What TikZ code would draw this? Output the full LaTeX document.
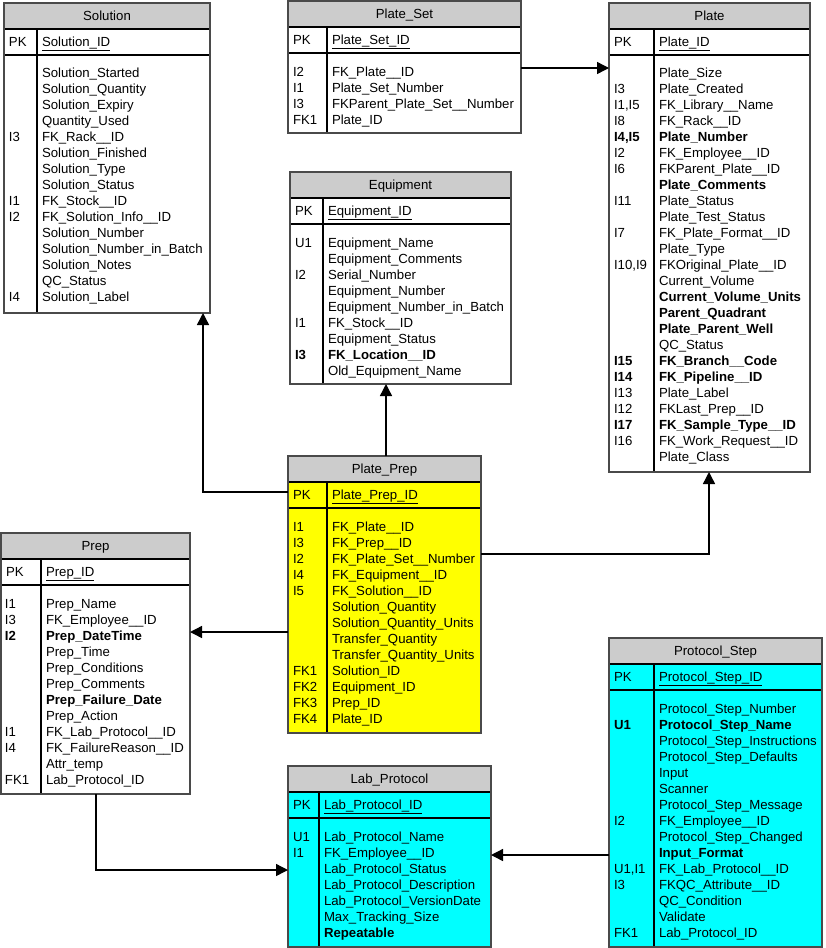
\documentclass[tikz,border=0pt]{standalone}
\usepackage{fontspec}
\setmainfont{Liberation Sans}
\usetikzlibrary{arrows.meta,fit}
\definecolor{titlegray}{HTML}{CCCCCC}
\definecolor{ery}{HTML}{FFFF00}
\definecolor{erc}{HTML}{00FFFF}
\definecolor{borderc}{HTML}{4A4A4A}
\def\erdash{-}
\tikzset{
  txt/.style={font=\fontsize{13.2}{16}\selectfont, inner sep=0pt, outer sep=0pt, text=black},
  divline/.style={draw=black, line width=1.1pt},
  boxline/.style={draw=borderc, line width=1.3pt},
  arr/.style={draw=black, line width=1.4pt, -{Triangle[length=12pt,width=12pt]}},
}
% name, x1, x2, ytop, ybot, xcol, fill, title, pkfield
\newcommand\erbox[9]{%
  \fill[#7] (#2,#4+26) rectangle (#3,#5);
  \fill[titlegray] (#2,#4) rectangle (#3,#4+26);
  \draw[divline] (#2,#4+26) -- (#3,#4+26) (#2,#4+52) -- (#3,#4+52) (#6,#4+26) -- (#6,#5);
  \node[fit={(#2,#4) (#3,#5)}, inner sep=0pt, outer sep=0pt, boxline] (#1) {};
  \node[txt, anchor=base] (#1-title) at ({(#2+#3)/2}, #4+17.5) {#8};
  \node[txt, anchor=base west] (#1-pkkey) at (#2+5, #4+43.5) {PK};
  \node[txt, anchor=base west] (#1-pk) at (#6+5, #4+43.5) {\underline{#9}};
}
% name, x1, xcol, yfirst(center), list
\newcommand\errows[5]{%
  \foreach \kk/\ff [count=\ii from 0] in {#5} {
    \ifx\kk\erdash\else
      \node[txt, anchor=base west] (#1-k\ii) at (#2+5, #4+4.5+16*\ii) {\kk};
    \fi
    \node[txt, anchor=base west] (#1-f\ii) at (#3+5, #4+4.5+16*\ii) {\ff};
  }
}
\begin{document}
\begin{tikzpicture}[x=1pt,y=-1pt]
\useasboundingbox (0,0) rectangle (825,948);
\fill[white] (0,0) rectangle (825,948);

% Solution
\erbox{solution}{4}{210}{3}{313}{37}{white}{Solution}{Solution\_ID}
\errows{solution}{4}{37}{73}{-/Solution\_Started, -/Solution\_Quantity, -/Solution\_Expiry, -/Quantity\_Used, I3/FK\_Rack\_\_ID, -/Solution\_Finished, -/Solution\_Type, -/Solution\_Status, I1/FK\_Stock\_\_ID, I2/FK\_Solution\_Info\_\_ID, -/Solution\_Number, -/Solution\_Number\_in\_Batch, -/Solution\_Notes, -/QC\_Status, I4/Solution\_Label}

% Plate_Set
\erbox{plateset}{288}{521}{1}{133}{327}{white}{Plate\_Set}{Plate\_Set\_ID}
\errows{plateset}{288}{327}{72}{I2/FK\_Plate\_\_ID, I1/Plate\_Set\_Number, I3/FKParent\_Plate\_Set\_\_Number, FK1/Plate\_ID}

% Plate
\erbox{plate}{609}{810}{3}{472}{654}{white}{Plate}{Plate\_ID}
\errows{plate}{609}{654}{73}{-/Plate\_Size, I3/Plate\_Created, {I1,I5}/FK\_Library\_\_Name, I8/FK\_Rack\_\_ID, {\textbf{I4,I5}}/\textbf{Plate\_Number}, I2/FK\_Employee\_\_ID, I6/FKParent\_Plate\_\_ID, -/\textbf{Plate\_Comments}, I11/Plate\_Status, -/Plate\_Test\_Status, I7/FK\_Plate\_Format\_\_ID, -/Plate\_Type, {I10,I9}/FKOriginal\_Plate\_\_ID, -/Current\_Volume, -/\textbf{Current\_Volume\_Units}, -/\textbf{Parent\_Quadrant}, -/\textbf{Plate\_Parent\_Well}, -/QC\_Status, \textbf{I15}/\textbf{FK\_Branch\_\_Code}, \textbf{I14}/\textbf{FK\_Pipeline\_\_ID}, I13/Plate\_Label, I12/FKLast\_Prep\_\_ID, \textbf{I17}/\textbf{FK\_Sample\_Type\_\_ID}, I16/FK\_Work\_Request\_\_ID, -/Plate\_Class}

% Equipment
\erbox{equipment}{290}{511}{172}{384}{323}{white}{Equipment}{Equipment\_ID}
\errows{equipment}{290}{323}{243}{U1/Equipment\_Name, -/Equipment\_Comments, I2/Serial\_Number, -/Equipment\_Number, -/Equipment\_Number\_in\_Batch, I1/FK\_Stock\_\_ID, -/Equipment\_Status, \textbf{I3}/\textbf{FK\_Location\_\_ID}, -/Old\_Equipment\_Name}

% Plate_Prep
\erbox{plateprep}{288}{481}{456}{733}{327}{ery}{Plate\_Prep}{Plate\_Prep\_ID}
\errows{plateprep}{288}{327}{527}{I1/FK\_Plate\_\_ID, I3/FK\_Prep\_\_ID, I2/FK\_Plate\_Set\_\_Number, I4/FK\_Equipment\_\_ID, I5/FK\_Solution\_\_ID, -/Solution\_Quantity, -/Solution\_Quantity\_Units, -/Transfer\_Quantity, -/Transfer\_Quantity\_Units, FK1/Solution\_ID, FK2/Equipment\_ID, FK3/Prep\_ID, FK4/Plate\_ID}

% Prep
\erbox{prep}{1}{190}{533}{794}{41}{white}{Prep}{Prep\_ID}
\errows{prep}{0}{41}{604}{I1/Prep\_Name, I3/FK\_Employee\_\_ID, \textbf{I2}/\textbf{Prep\_DateTime}, -/Prep\_Time, -/Prep\_Conditions, -/Prep\_Comments, -/\textbf{Prep\_Failure\_Date}, -/Prep\_Action, I1/FK\_Lab\_Protocol\_\_ID, I4/FK\_FailureReason\_\_ID, -/Attr\_temp, FK1/Lab\_Protocol\_ID}

% Lab_Protocol
\erbox{labprotocol}{288}{491}{766}{947}{319}{erc}{Lab\_Protocol}{Lab\_Protocol\_ID}
\errows{labprotocol}{288}{319}{837}{U1/Lab\_Protocol\_Name, I1/FK\_Employee\_\_ID, -/Lab\_Protocol\_Status, -/Lab\_Protocol\_Description, -/Lab\_Protocol\_VersionDate, -/Max\_Tracking\_Size, -/\textbf{Repeatable}}

% Protocol_Step
\erbox{protocolstep}{609}{822}{638}{947}{654}{erc}{Protocol\_Step}{Protocol\_Step\_ID}
\errows{protocolstep}{609}{654}{709}{-/Protocol\_Step\_Number, \textbf{U1}/\textbf{Protocol\_Step\_Name}, -/Protocol\_Step\_Instructions, -/Protocol\_Step\_Defaults, -/Input, -/Scanner, -/Protocol\_Step\_Message, I2/FK\_Employee\_\_ID, -/Protocol\_Step\_Changed, -/\textbf{Input\_Format}, {U1,I1}/FK\_Lab\_Protocol\_\_ID, I3/FKQC\_Attribute\_\_ID, -/QC\_Condition, -/Validate, FK1/Lab\_Protocol\_ID}

% connectors
\draw[arr] (plateset.east |- 0,68) -- (plate.west |- 0,68);
\draw[arr] (plateprep.west |- 0,492) -| (solution.south -| 203,0);
\draw[arr] (plateprep.north -| 386,0) -- (equipment.south -| 386,0);
\draw[arr] (plateprep.east |- 0,554) -| (plate.south -| 709,0);
\draw[arr] (plateprep.west |- 0,632) -- (prep.east |- 0,632);
\draw[arr] (prep.south -| 96,0) |- (labprotocol.west |- 0,870);
\draw[arr] (protocolstep.west |- 0,855) -- (labprotocol.east |- 0,855);
\end{tikzpicture}
\end{document}
